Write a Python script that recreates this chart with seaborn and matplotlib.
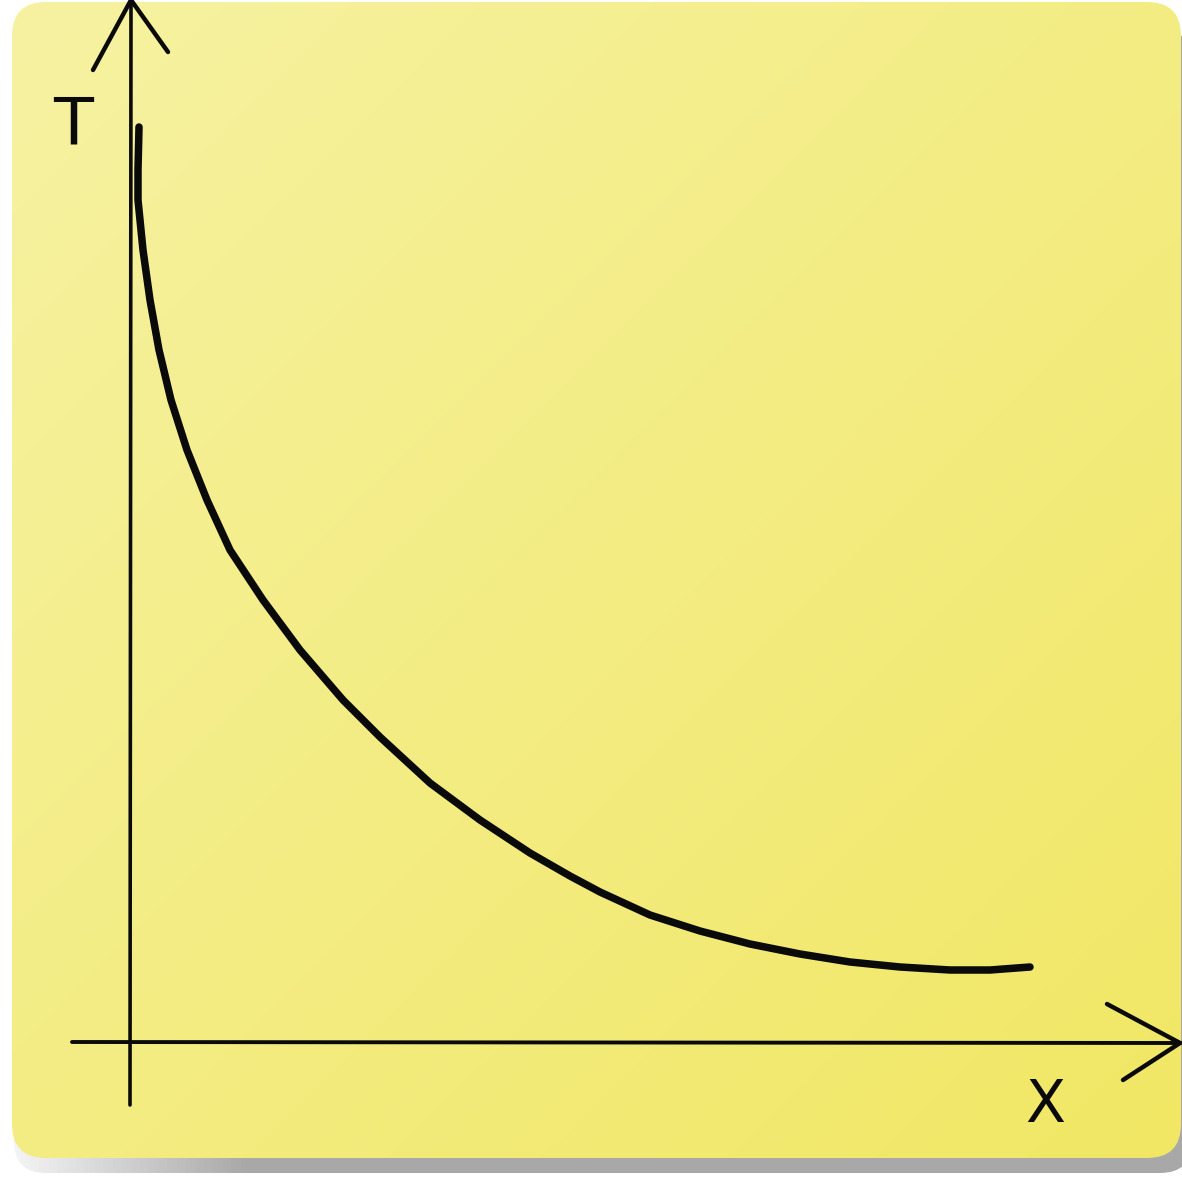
import numpy as np
import matplotlib
matplotlib.use("Agg")
import matplotlib.pyplot as plt
import seaborn as sns
import pandas as pd
from matplotlib.patches import FancyBboxPatch
import logging
logging.getLogger("matplotlib.font_manager").setLevel(logging.ERROR)

# ---- data ----
x_values = [0.09, 0.08, 0.08, 0.13, 0.20, 0.29, 0.41, 0.57, 0.77, 1.00,
            1.33, 1.70, 2.13, 2.50, 3.00, 3.50, 4.00, 4.40, 4.70, 5.20,
            5.70, 6.20, 6.70, 7.20, 7.70, 8.20, 8.60, 9.00]
t_values = [9.15, 8.72, 8.42, 7.92, 7.42, 6.92, 6.42, 5.92, 5.42, 4.92,
            4.42, 3.92, 3.42, 3.05, 2.59, 2.22, 1.89, 1.66, 1.50, 1.27,
            1.11, 0.98, 0.88, 0.80, 0.75, 0.72, 0.72, 0.75]
x_label = "X"
y_label = "T"

sns.set_theme(style="white")
plt.rcParams['font.family'] = ['DejaVu Sans']

W = 1182
fig = plt.figure(figsize=(11.82, 11.82), dpi=100)
fig.patch.set_facecolor("white")

# ---- background (pixel coords) ----
bg = fig.add_axes([0, 0, 1, 1])
bg.set_xlim(0, W)
bg.set_ylim(W, 0)
bg.axis("off")

# shadow
shadow = FancyBboxPatch((14, 30), W - 14 + 10, 1173 - 30,
                        boxstyle="round,pad=0,rounding_size=32",
                        transform=bg.transData, facecolor="none", edgecolor="none")
bg.add_patch(shadow)
sx = np.linspace(0, 1, 256)
sgrad = np.clip(sx * 5, 0, 1)
scol = np.ones((2, 256, 3))
for i in range(3):
    scol[:, :, i] = 0.96 * (1 - sgrad) + 0.66 * sgrad
im_s = bg.imshow(scol, extent=(12, W, 1174, 30), aspect="auto", zorder=1)
im_s.set_clip_path(shadow)

# note
note = FancyBboxPatch((12, 2), W - 12 - 1, 1158 - 2,
                      boxstyle="round,pad=0,rounding_size=34",
                      transform=bg.transData, facecolor="none", edgecolor="none")
bg.add_patch(note)
n = 300
gx, gy = np.meshgrid(np.linspace(0, 1, n), np.linspace(0, 1, n))
g = np.clip((gx + gy) / 2, 0, 1)
c0 = np.array([246, 242, 162]) / 255
c1 = np.array([241, 231, 100]) / 255
img = c0[None, None, :] * (1 - g[..., None]) + c1[None, None, :] * g[..., None]
im_n = bg.imshow(img, extent=(12, W, 1158, 2), aspect="auto", zorder=2)
im_n.set_clip_path(note)

# ---- chart axes (data coords) ----
ax = fig.add_axes([0, 0, 1, 1])
ax.patch.set_alpha(0)
ax.set_xlim(-1.30, 10.52)
ax.set_ylim(-1.40, 10.42)
ax.axis("off")

ink = "#0a0a0a"
# axes lines
ax.plot([0.0, 0.01], [-0.63, 10.42], color=ink, lw=2.6, solid_capstyle="round")
ax.plot([-0.58, 10.50], [0.0, -0.01], color=ink, lw=2.8, solid_capstyle="round")
# arrow heads
ax.plot([-0.37, 0.01, 0.38], [9.72, 10.42, 9.90], color=ink, lw=3.2,
        solid_capstyle="round", solid_joinstyle="miter")
ax.plot([9.77, 10.50, 9.93], [0.38, -0.01, -0.38], color=ink, lw=3.2,
        solid_capstyle="round", solid_joinstyle="miter")

# curve (no aggregation: every read point is drawn in order)
df = pd.DataFrame({"x": x_values, "T": t_values})
sns.lineplot(data=df, x="x", y="T", ax=ax, color=ink, lw=5.4, sort=False,
             estimator=None, errorbar=None,
             solid_capstyle="round", solid_joinstyle="round")

# labels
ax.text(-0.57, 9.15, y_label, fontsize=47, color=ink, ha="center", va="center")
ax.text(9.15, -0.63, x_label, fontsize=42, color=ink, ha="center", va="center")

fig.savefig("out.png", dpi=100)
